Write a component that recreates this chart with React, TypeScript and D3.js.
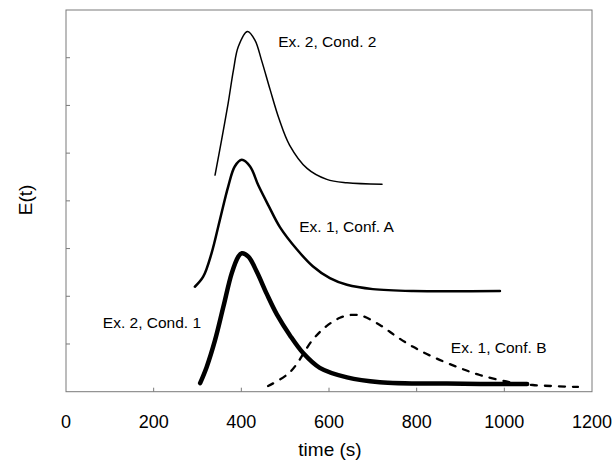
import React, { useEffect, useRef } from "react"
import * as d3 from "d3"

// E(t) curves: [time (s), E(t) in axis units]
const cond2Ex2: [number, number][] = [
  [340, 4.54], [355, 5.28], [370, 6.05], [382, 6.74], [393, 7.23], [414, 7.55],
  [431, 7.37], [446, 6.95], [466, 6.32], [486, 5.72], [510, 5.17], [550, 4.68],
  [595, 4.45], [641, 4.38], [721, 4.35],
]
const confAEx1: [number, number][] = [
  [294, 2.2], [313, 2.41], [332, 2.9], [351, 3.6], [370, 4.3], [385, 4.72],
  [401, 4.86], [420, 4.72], [439, 4.32], [462, 3.9], [488, 3.45], [527, 2.98],
  [563, 2.63], [602, 2.38], [641, 2.24], [700, 2.15], [792, 2.11], [990, 2.11],
]
const cond1Ex2: [number, number][] = [
  [306, 0.18], [321, 0.52], [340, 1.08], [359, 1.78], [378, 2.48], [393, 2.83],
  [401, 2.9], [416, 2.83], [435, 2.52], [458, 2.05], [481, 1.62], [511, 1.18],
  [541, 0.81], [579, 0.5], [641, 0.3], [716, 0.2], [869, 0.17], [1052, 0.16],
]
const confBEx1: [number, number][] = [
  [461, 0.12], [511, 0.41], [563, 1.09], [595, 1.38], [625, 1.55], [652, 1.61],
  [675, 1.59], [716, 1.4], [755, 1.15], [792, 0.94], [837, 0.73], [892, 0.52],
  [944, 0.35], [1013, 0.2], [1065, 0.14], [1168, 0.1],
]

const xTicks = [0, 200, 400, 600, 800, 1000, 1200]
const yTicks = [1, 2, 3, 4, 5, 6, 7]

// label text with anchor [time, E]
const labels: [string, number, number][] = [
  ["Ex. 2, Cond. 2", 484, 7.23],
  ["Ex. 1, Conf. A", 532, 3.35],
  ["Ex. 2, Cond. 1", 84, 1.34],
  ["Ex. 1, Conf. B", 878, 0.81],
]

const App = () => {
  const svgRef = useRef<SVGSVGElement>(null)

  useEffect(() => {
    const svg = d3.select(svgRef.current)
    svg.selectAll("*").remove()

    const width = 614
    const height = 465
    const left = 66
    const right = 592
    const top = 10
    const bottom = 391.7

    const x = d3.scaleLinear().domain([0, 1200]).range([left, right])
    const y = d3.scaleLinear().domain([0, 8]).range([bottom, top])

    const font = "Arial, 'Liberation Sans', sans-serif"

    // frame
    svg
      .append("rect")
      .attr("x", left)
      .attr("y", top)
      .attr("width", right - left)
      .attr("height", bottom - top)
      .attr("fill", "none")
      .attr("stroke", "#7a7a7a")
      .attr("stroke-width", 1)

    // inward ticks
    svg
      .selectAll(".xtick")
      .data(xTicks.slice(1, -1))
      .enter()
      .append("line")
      .attr("x1", (d) => x(d))
      .attr("x2", (d) => x(d))
      .attr("y1", bottom)
      .attr("y2", bottom - 4)
      .attr("stroke", "#7a7a7a")

    svg
      .selectAll(".ytick")
      .data(yTicks)
      .enter()
      .append("line")
      .attr("x1", left)
      .attr("x2", left + 4)
      .attr("y1", (d) => y(d))
      .attr("y2", (d) => y(d))
      .attr("stroke", "#7a7a7a")

    svg
      .selectAll(".xlabel")
      .data(xTicks)
      .enter()
      .append("text")
      .attr("x", (d) => x(d))
      .attr("y", 428)
      .attr("text-anchor", "middle")
      .style("font-family", font)
      .style("font-size", "18px")
      .text((d) => d)

    svg
      .append("text")
      .attr("x", 330)
      .attr("y", 456)
      .attr("text-anchor", "middle")
      .style("font-family", font)
      .style("font-size", "19px")
      .text("time (s)")

    svg
      .append("text")
      .attr("transform", `translate(32, 200) rotate(-90)`)
      .attr("text-anchor", "middle")
      .style("font-family", font)
      .style("font-size", "19px")
      .text("E(t)")

    const line = d3
      .line<[number, number]>()
      .x((d) => x(d[0]))
      .y((d) => y(d[1]))
      .curve(d3.curveCatmullRom.alpha(0.5))

    const curves: { data: [number, number][]; w: number; dash?: string }[] = [
      { data: cond2Ex2, w: 1.5 },
      { data: confAEx1, w: 2.5 },
      { data: cond1Ex2, w: 4.5 },
      { data: confBEx1, w: 2.3, dash: "6,8" },
    ]

    curves.forEach((c) => {
      svg
        .append("path")
        .attr("d", line(c.data))
        .attr("fill", "none")
        .attr("stroke", "#000")
        .attr("stroke-width", c.w)
        .attr("stroke-linecap", "round")
        .attr("stroke-dasharray", c.dash ?? null)
    })

    svg
      .selectAll(".annot")
      .data(labels)
      .enter()
      .append("text")
      .attr("x", (d) => x(d[1]))
      .attr("y", (d) => y(d[2]))
      .style("font-family", font)
      .style("font-size", "15.5px")
      .text((d) => d[0])

    svg.attr("width", width).attr("height", height)
  }, [])

  return (
    <svg
      ref={svgRef}
      width={614}
      height={465}
      style={{ position: "absolute", left: 0, top: 0, background: "#fff" }}
    />
  )
}

export default App
